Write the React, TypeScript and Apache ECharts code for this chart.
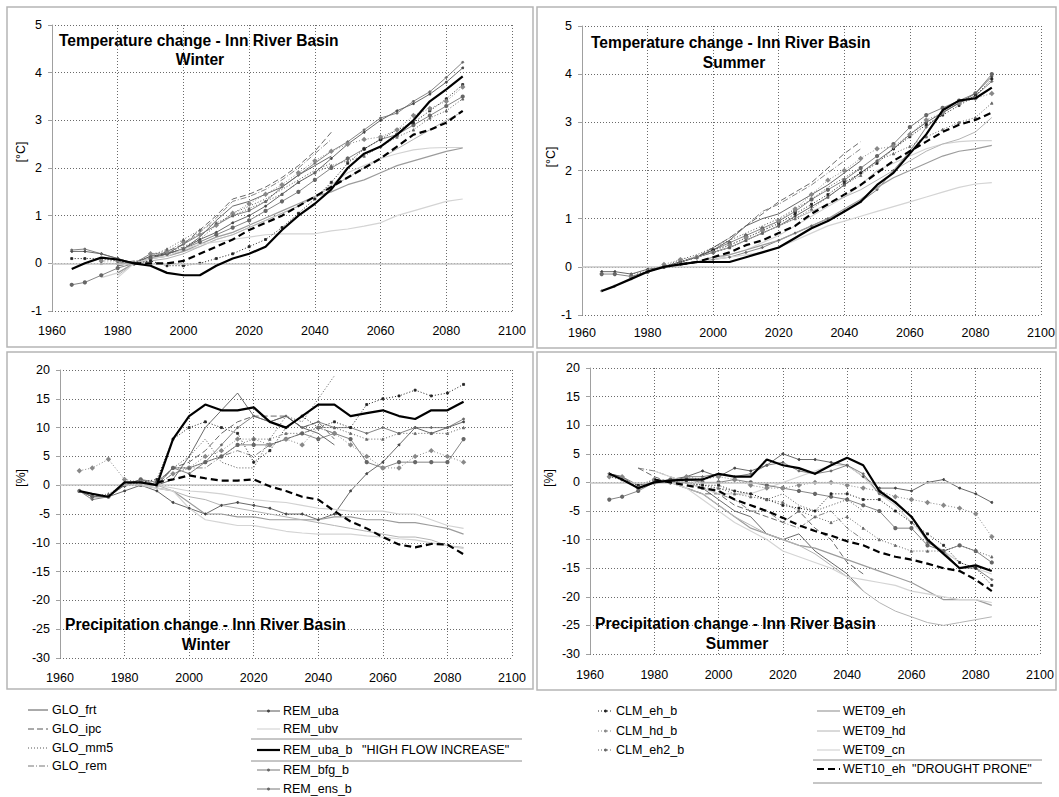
import React, { useEffect, useRef } from "react";
import * as echarts from "echarts";

const n = null;

// x values (years) shared by all series
const YEARS = [1966, 1970, 1975, 1980, 1985, 1990, 1995, 2000, 2005, 2010, 2015, 2020, 2025, 2030, 2035, 2040, 2045, 2050, 2055, 2060, 2065, 2070, 2075, 2080, 2085];
const X_TICKS = [1960, 1980, 2000, 2020, 2040, 2060, 2080, 2100];

const SERIES_NAMES = [
  "GLO_frt", "GLO_ipc", "GLO_mm5", "GLO_rem",
  "REM_uba", "REM_ubv", "REM_uba_b", "REM_bfg_b", "REM_ens_b",
  "CLM_eh_b", "CLM_hd_b", "CLM_eh2_b",
  "WET09_eh", "WET09_hd", "WET09_cn", "WET10_eh",
];

// Temperature change, winter [°C] (rows follow SERIES_NAMES)
const TEMP_WINTER: (number | null)[][] = [
  [n, n, n, 0.0, 0.0, 0.1, 0.2, 0.3, 0.55, 0.9, 1.2, 1.3, 1.45, 1.6, 1.85, 2.05, 2.25, n, n, n, n, n, n, n, n],
  [n, n, n, -0.05, 0.0, 0.1, 0.25, 0.4, 0.7, 1.0, 1.35, 1.45, 1.6, 1.8, 2.05, 2.35, 2.75, n, n, n, n, n, n, n, n],
  [n, n, n, 0.0, 0.0, 0.15, 0.2, 0.35, 0.5, 0.8, 1.05, 1.2, 1.35, 1.55, 1.75, 1.95, 2.1, n, n, n, n, n, n, n, n],
  [n, n, n, 0.0, 0.05, 0.1, 0.2, 0.4, 0.65, 0.95, 1.3, 1.4, 1.55, 1.75, 2.0, 2.3, 2.6, n, n, n, n, n, n, n, n],
  [0.25, 0.25, 0.2, 0.1, 0.0, 0.15, 0.2, 0.3, 0.5, 0.65, 0.85, 1.0, 1.2, 1.45, 1.7, 1.9, 2.2, 2.5, 2.75, 3.0, 3.2, 3.35, 3.55, 3.8, 4.1],
  [n, n, -0.3, -0.2, 0.0, 0.1, 0.15, 0.25, 0.35, 0.5, 0.6, 0.75, 0.9, 1.05, 1.2, 1.4, 1.65, 1.9, 2.05, 2.2, 2.3, 2.38, 2.42, 2.43, 2.43],
  [-0.12, 0.0, 0.12, 0.08, 0.0, -0.05, -0.2, -0.25, -0.25, -0.05, 0.1, 0.2, 0.35, 0.7, 1.0, 1.25, 1.55, 2.0, 2.3, 2.45, 2.7, 3.0, 3.4, 3.65, 3.92],
  [0.28, 0.3, 0.2, 0.1, 0.0, 0.2, 0.2, 0.4, 0.6, 0.8, 1.0, 1.1, 1.3, 1.6, 1.85, 2.1, 2.35, 2.55, 2.8, 3.05, 3.15, 3.4, 3.6, 3.9, 4.22],
  [-0.45, -0.4, -0.25, -0.1, 0.0, 0.1, 0.2, 0.3, 0.45, 0.6, 0.75, 0.9, 1.1, 1.3, 1.5, 1.75, 2.0, 2.2, 2.4, 2.6, 2.7, 2.9, 3.1, 3.3, 3.5],
  [0.1, 0.1, 0.1, 0.05, 0.0, 0.05, -0.05, -0.05, 0.0, 0.1, 0.2, 0.35, 0.5, 0.75, 1.05, 1.35, 1.7, 2.1, 2.4, 2.6, 2.8, 2.95, 3.2, 3.45, 3.75],
  [n, n, 0.05, 0.05, 0.0, 0.2, 0.25, 0.45, 0.6, 0.8, 1.05, 1.25, 1.45, 1.65, 1.9, 2.15, 2.35, 2.5, 2.6, 2.65, 2.8, 3.1, 3.25, 3.4, 3.7],
  [n, n, 0.0, 0.0, 0.0, 0.15, 0.3, 0.5, 0.7, 0.85, 1.0, 1.15, 1.3, 1.45, 1.7, 1.9, 2.05, 2.15, 2.25, 2.45, 2.65, 2.8, 3.05, 3.2, 3.45],
  [n, n, n, -0.2, 0.0, 0.1, 0.15, 0.25, 0.4, 0.55, 0.65, 0.8, 0.95, 1.1, 1.25, 1.4, 1.5, 1.65, 1.75, 1.9, 2.05, 2.15, 2.25, 2.35, 2.42],
  [n, n, n, -0.25, 0.0, 0.05, 0.1, 0.2, 0.35, 0.5, 0.6, 0.75, 0.9, 1.05, 1.2, 1.4, 1.6, 1.8, 2.0, 2.2, 2.4, 2.6, 2.8, 3.0, 3.18],
  [n, n, n, -0.3, 0.0, 0.1, 0.15, 0.3, 0.4, 0.45, 0.5, 0.55, 0.6, 0.62, 0.62, 0.62, 0.68, 0.72, 0.78, 0.85, 1.0, 1.1, 1.2, 1.3, 1.35],
  [n, n, n, n, 0.0, 0.0, 0.0, 0.05, 0.2, 0.35, 0.5, 0.7, 0.85, 1.0, 1.2, 1.4, 1.6, 1.8, 2.0, 2.2, 2.45, 2.7, 2.8, 2.95, 3.2],
];

// Temperature change, summer [°C]
const TEMP_SUMMER: (number | null)[][] = [
  [n, n, n, -0.1, 0.0, 0.1, 0.2, 0.35, 0.55, 0.85, 1.0, 1.1, 1.3, 1.5, 1.7, 1.95, 2.2, n, n, n, n, n, n, n, n],
  [n, n, n, -0.1, 0.0, 0.1, 0.2, 0.4, 0.6, 0.85, 1.1, 1.35, 1.55, 1.75, 2.05, 2.35, 2.6, n, n, n, n, n, n, n, n],
  [n, n, n, -0.1, 0.0, 0.15, 0.25, 0.4, 0.55, 0.7, 0.85, 1.0, 1.2, 1.4, 1.65, 1.85, 2.05, n, n, n, n, n, n, n, n],
  [n, n, n, -0.1, 0.0, 0.1, 0.2, 0.4, 0.6, 0.85, 1.15, 1.3, 1.5, 1.7, 1.95, 2.2, 2.45, n, n, n, n, n, n, n, n],
  [-0.1, -0.1, -0.15, -0.05, 0.0, 0.1, 0.2, 0.3, 0.4, 0.55, 0.7, 0.85, 1.05, 1.25, 1.45, 1.7, 1.95, 2.2, 2.45, 2.75, 3.0, 3.2, 3.4, 3.6, 3.95],
  [n, n, n, -0.1, 0.0, 0.05, 0.1, 0.15, 0.25, 0.35, 0.5, 0.65, 0.85, 1.05, 1.25, 1.45, 1.7, 2.0, 2.15, 2.3, 2.45, 2.55, 2.6, 2.62, 2.62],
  [-0.5, -0.4, -0.25, -0.1, 0.0, 0.05, 0.1, 0.1, 0.1, 0.2, 0.3, 0.4, 0.6, 0.8, 0.95, 1.15, 1.35, 1.7, 1.95, 2.35, 2.75, 3.25, 3.45, 3.5, 3.72],
  [-0.5, -0.4, -0.25, -0.1, 0.0, 0.05, 0.1, 0.15, 0.2, 0.3, 0.4, 0.55, 0.7, 0.85, 1.0, 1.15, 1.35, 1.6, 2.0, 2.4, 2.9, 3.2, 3.4, 3.55, 3.85],
  [-0.15, -0.15, -0.2, -0.1, 0.0, 0.1, 0.2, 0.35, 0.5, 0.65, 0.8, 0.95, 1.15, 1.4, 1.6, 1.8, 2.05, 2.3, 2.55, 2.9, 3.15, 3.3, 3.45, 3.6, 4.0],
  [n, n, -0.2, -0.1, 0.0, 0.1, 0.2, 0.35, 0.45, 0.6, 0.75, 0.9, 1.1, 1.3, 1.5, 1.75, 1.95, 2.15, 2.45, 2.7, 2.95, 3.15, 3.35, 3.55, 3.9],
  [n, n, -0.2, -0.1, 0.05, 0.15, 0.2, 0.3, 0.45, 0.6, 0.75, 0.95, 1.2, 1.5, 1.8, 2.0, 2.25, 2.45, 2.5, 2.75, 3.05, 3.2, 3.4, 3.5, 3.6],
  [n, n, -0.15, -0.1, 0.0, 0.1, 0.2, 0.3, 0.4, 0.55, 0.7, 0.85, 1.0, 1.2, 1.45, 1.7, 1.9, 2.2, 2.35, 2.5, 2.7, 2.85, 3.0, 3.1, 3.4],
  [n, n, n, -0.1, 0.0, 0.05, 0.1, 0.2, 0.25, 0.35, 0.45, 0.55, 0.7, 0.85, 1.0, 1.2, 1.4, 1.65, 1.85, 2.0, 2.15, 2.3, 2.4, 2.45, 2.52],
  [n, n, n, -0.1, 0.0, 0.1, 0.2, 0.3, 0.4, 0.55, 0.7, 0.85, 1.0, 1.15, 1.3, 1.45, 1.6, 1.8, 2.0, 2.2, 2.4, 2.55, 2.65, 2.8, 3.1],
  [n, n, n, -0.1, 0.0, 0.05, 0.1, 0.15, 0.2, 0.25, 0.3, 0.4, 0.55, 0.7, 0.85, 0.95, 1.05, 1.15, 1.25, 1.35, 1.45, 1.55, 1.65, 1.72, 1.75],
  [n, n, n, n, n, 0.05, 0.1, 0.2, 0.3, 0.45, 0.55, 0.7, 0.85, 1.1, 1.3, 1.5, 1.7, 1.95, 2.2, 2.4, 2.6, 2.8, 2.95, 3.05, 3.2],
];

// Precipitation change, winter [%]
const PREC_WINTER: (number | null)[][] = [
  [n, n, n, 0.0, 0.5, 0.0, 1.0, 5.0, 10.0, 13.0, 16.0, 12.0, 11.0, 12.0, 10.0, 9.0, 7.0, n, n, n, n, n, n, n, n],
  [n, n, n, 0.0, 0.5, 0.0, 3.0, 4.0, 6.0, 9.0, 11.0, 12.0, 12.0, 12.0, 10.0, 11.0, 8.0, n, n, n, n, n, n, n, n],
  [n, n, n, 0.0, 0.5, 0.0, 3.0, 5.0, 8.0, 4.0, 3.0, 3.0, 8.0, 12.0, 11.0, 15.0, 19.0, n, n, n, n, n, n, n, n],
  [n, n, n, 0.5, 0.0, 0.0, 2.0, 3.0, 3.0, 5.0, 6.0, 5.0, 7.0, 8.0, 9.0, 10.0, 9.0, n, n, n, n, n, n, n, n],
  [-1.0, -2.0, -2.0, -1.0, 0.0, -1.0, -3.0, -4.0, -5.0, -3.5, -3.0, -3.5, -4.0, -5.0, -5.0, -6.0, -5.0, -1.0, 2.0, 4.0, 7.0, 10.0, 9.0, 10.0, 11.0],
  [n, n, n, 0.0, 0.5, 0.0, -0.5, -1.0, -1.2, -1.5, -2.0, -2.5, -2.8, -3.0, -3.5, -4.0, -4.2, -4.5, -4.5, -4.5, -5.0, -5.0, -6.0, -7.0, -7.5],
  [-1.0, -1.5, -2.0, 0.5, 0.5, 0.0, 8.0, 12.0, 14.0, 13.0, 13.0, 13.5, 11.0, 10.0, 12.0, 14.0, 14.0, 12.0, 12.5, 13.0, 12.0, 11.5, 13.0, 13.0, 14.5],
  [-1.0, -2.5, -2.0, 0.0, 1.0, 0.0, 3.0, 2.0, 4.0, 7.0, 10.0, 12.0, 11.0, 12.0, 10.0, 11.0, 10.0, 10.0, 9.0, 10.0, 9.0, 10.0, 10.0, 10.0, 11.5],
  [-1.0, -2.0, -2.0, 0.0, 1.0, 0.5, 3.0, 3.0, 4.0, 5.0, 7.0, 7.0, 7.0, 8.0, 9.0, 8.0, 9.0, 8.0, 4.0, 3.0, 4.0, 4.0, 4.0, 4.0, 8.0],
  [n, n, n, 0.0, 0.5, 1.0, 8.0, 10.0, 11.0, 10.0, 9.0, 4.0, 6.0, 10.0, 12.0, 10.0, 11.0, 10.0, 14.0, 15.0, 15.5, 16.5, 15.5, 16.0, 17.5],
  [2.5, 3.0, 4.5, 1.0, 0.5, 0.0, 2.0, 3.0, 5.0, 6.0, 8.0, 8.0, 7.0, 8.0, 7.0, 10.0, 9.0, 7.0, 5.0, 3.0, 3.0, 5.0, 6.0, 5.0, 4.0],
  [-1.0, -2.0, -1.5, 0.0, 0.0, 0.5, 3.0, 3.0, 4.0, 5.0, 7.0, 8.0, 8.0, 9.0, 9.0, 10.0, 10.0, 9.0, 8.0, 8.0, 9.0, 9.0, 9.0, 9.0, 10.0],
  [n, n, n, n, 0.0, -0.5, -1.0, -3.0, -5.0, -5.0, -5.5, -5.5, -6.0, -6.0, -6.0, -6.0, -5.5, -5.5, -6.0, -6.0, -6.5, -6.5, -7.0, -7.5, -8.5],
  [n, n, n, n, 0.0, 0.0, -1.0, -2.0, -2.5, -3.5, -4.0, -4.5, -5.0, -5.5, -6.0, -6.5, -7.0, -7.5, -8.0, -8.5, -9.0, -9.0, -9.5, -10.5, -10.8],
  [n, n, n, n, 0.0, -0.5, -1.0, -4.0, -6.0, -6.5, -7.0, -7.0, -7.5, -8.0, -8.3, -8.5, -8.5, -8.5, -8.8, -9.0, -9.3, -9.5, -10.0, -10.5, -11.0],
  [n, n, n, n, n, 0.5, 1.0, 1.7, 1.2, 0.8, 0.8, 1.0, -0.2, -1.0, -2.0, -2.5, -4.5, -6.3, -7.5, -9.0, -10.3, -10.8, -10.2, -10.3, -12.0],
];

// Precipitation change, summer [%]
const PREC_SUMMER: (number | null)[][] = [
  [n, n, n, 0.0, 0.0, 0.0, -1.0, -3.0, -5.0, -6.0, -9.0, -10.0, -9.0, -12.0, -14.0, -16.0, -19.0, n, n, n, n, n, n, n, n],
  [n, n, 2.5, 1.0, 0.0, -1.0, -2.0, -2.0, -4.0, -5.0, -6.0, -7.0, -5.0, -8.0, -10.0, -14.0, -16.0, n, n, n, n, n, n, n, n],
  [n, n, n, 0.0, 0.0, 0.0, -0.5, -1.0, -1.5, -2.0, -3.0, -2.0, -4.0, -5.0, -4.0, -3.0, -5.0, n, n, n, n, n, n, n, n],
  [n, n, 2.5, 2.0, 1.0, 0.0, -1.0, -2.0, -3.0, -5.0, -5.0, -7.0, -8.0, -6.0, -5.0, -8.0, -10.0, n, n, n, n, n, n, n, n],
  [1.5, 1.0, -1.0, 0.0, 0.5, 1.0, 2.0, 1.0, 2.5, 2.0, 3.0, 5.0, 4.0, 4.0, 3.5, 3.0, 1.0, -1.0, -1.0, -1.5, 0.0, 0.5, -1.0, -2.0, -3.5],
  [n, n, n, 2.0, 1.0, 0.0, -1.0, -2.0, -2.0, -2.0, -1.0, 0.0, 1.0, 2.0, 3.0, 3.0, 1.0, -2.0, -4.0, -7.0, -10.0, -12.0, -14.0, -15.0, -16.0],
  [1.5, 0.5, -1.0, 0.0, 0.3, 0.5, 0.5, 1.5, 1.0, 1.0, 4.0, 3.0, 2.5, 1.5, 3.0, 4.3, 3.0, -1.5, -3.5, -6.0, -10.0, -12.5, -15.0, -14.5, -15.5],
  [1.5, 1.0, -0.5, 0.0, 0.0, 1.0, 1.0, 1.5, 1.0, 1.5, 3.0, 3.5, 2.0, 1.5, 2.0, 3.0, 1.5, -2.0, -3.5, -6.0, -10.5, -12.0, -15.0, -15.0, -17.0],
  [-3.0, -2.5, -1.5, 0.0, 0.5, 0.5, 0.0, 0.0, 0.5, 0.0, -0.5, -1.0, -1.5, -2.0, -2.5, -3.0, -4.0, -5.0, -8.0, -8.0, -11.0, -12.0, -11.0, -12.0, -14.0],
  [1.0, 0.5, -0.5, 0.5, 0.0, 0.0, -0.5, -0.5, -1.5, -2.0, -3.0, -4.0, -4.5, -5.0, -2.0, -2.0, -3.0, -3.0, -5.0, -7.0, -9.0, -11.0, -14.0, -15.0, -18.0],
  [1.0, 1.0, -1.0, 0.5, 0.0, 1.0, 0.5, 1.0, 0.5, -0.5, -1.0, -1.0, -0.5, 0.0, 0.0, -0.5, -1.0, -1.5, -2.5, -3.0, -3.5, -4.0, -4.5, -5.5, -9.5],
  [1.5, 0.5, -1.0, 0.0, 0.0, 0.5, -1.0, -1.0, -2.0, -2.5, -3.0, -3.5, -5.0, -6.0, -7.0, -6.0, -8.0, -10.0, -11.0, -12.0, -12.0, -12.0, -11.0, -12.0, -13.0],
  [n, n, n, n, 0.0, -1.0, -2.0, -4.0, -6.0, -8.0, -9.0, -10.0, -11.0, -11.5, -12.5, -13.5, -14.5, -15.5, -16.5, -17.5, -19.0, -20.5, -20.5, -20.5, -21.5],
  [n, n, n, n, 0.0, -1.0, -2.0, -4.0, -6.0, -7.5, -9.0, -10.0, -11.0, -12.5, -14.5, -16.5, -19.0, -21.0, -22.5, -23.5, -24.5, -25.0, -24.5, -24.0, -23.5],
  [n, n, n, n, 0.0, -1.0, -3.0, -5.0, -7.0, -8.5, -10.0, -12.0, -13.0, -14.0, -15.0, -16.5, -17.0, -17.5, -18.0, -19.0, -19.5, -20.0, -20.5, -20.5, -21.0],
  [n, n, n, 0.5, 0.0, -0.5, -1.0, -1.5, -3.0, -4.0, -5.0, -6.2, -7.5, -8.5, -9.3, -10.3, -11.0, -12.2, -13.0, -13.5, -14.2, -15.0, -15.5, -17.0, -19.0],
];

const FONT = '"Liberation Sans", Arial, Helvetica, sans-serif';

type Sty = { color: string; width: number; dash: any; symbol: string; size: number; z: number };
const STYLE: Record<string, Sty> = {
  GLO_frt: { color: "#444", width: 0.8, dash: "solid", symbol: "none", size: 0, z: 2 },
  GLO_ipc: { color: "#444", width: 0.8, dash: [6, 3], symbol: "none", size: 0, z: 2 },
  GLO_mm5: { color: "#444", width: 0.9, dash: [1, 2], symbol: "none", size: 0, z: 2 },
  GLO_rem: { color: "#666", width: 0.8, dash: [6, 2, 1, 2], symbol: "none", size: 0, z: 2 },
  REM_uba: { color: "#444", width: 0.8, dash: "solid", symbol: "circle", size: 2, z: 2 },
  REM_ubv: { color: "#d2d2d2", width: 1.1, dash: "solid", symbol: "none", size: 0, z: 2 },
  REM_uba_b: { color: "#000", width: 2.2, dash: "solid", symbol: "none", size: 0, z: 5 },
  REM_bfg_b: { color: "#666", width: 0.8, dash: "solid", symbol: "diamond", size: 2.5, z: 2 },
  REM_ens_b: { color: "#666", width: 0.8, dash: "solid", symbol: "emptyCircle", size: 2.2, z: 2 },
  CLM_eh_b: { color: "#222", width: 1, dash: [1, 2], symbol: "rect", size: 2, z: 3 },
  CLM_hd_b: { color: "#888", width: 1, dash: [1, 2], symbol: "emptyDiamond", size: 2.6, z: 3 },
  CLM_eh2_b: { color: "#666", width: 1, dash: [1, 2], symbol: "triangle", size: 2.4, z: 3 },
  WET09_eh: { color: "#9c9c9c", width: 1.2, dash: "solid", symbol: "none", size: 0, z: 2 },
  WET09_hd: { color: "#b4b4b4", width: 1, dash: "solid", symbol: "none", size: 0, z: 2 },
  WET09_cn: { color: "#d4d4d4", width: 1.2, dash: "solid", symbol: "none", size: 0, z: 2 },
  WET10_eh: { color: "#000", width: 2.2, dash: [7, 4], symbol: "none", size: 0, z: 5 },
};

const PANELS = [
  { data: TEMP_WINTER, grid: { left: 52, top: 25, width: 460, height: 286 }, yMin: -1, yMax: 5, yInt: 1, xMargin: 13 },
  { data: TEMP_SUMMER, grid: { left: 582, top: 26, width: 459, height: 289 }, yMin: -1, yMax: 5, yInt: 1, xMargin: 11 },
  { data: PREC_WINTER, grid: { left: 60, top: 370, width: 452, height: 288 }, yMin: -30, yMax: 20, yInt: 5, xMargin: 13 },
  { data: PREC_SUMMER, grid: { left: 590, top: 368, width: 450, height: 286 }, yMin: -30, yMax: 20, yInt: 5, xMargin: 14 },
];

const TITLES = [
  { t: "Temperature change - Inn River Basin", s: "Winter", x: 59, y: 40, sx: 200, sy: 59 },
  { t: "Temperature change - Inn River Basin", s: "Summer", x: 591, y: 42, sx: 734, sy: 62 },
  { t: "Precipitation change - Inn River Basin", s: "Winter", x: 65, y: 624, sx: 206, sy: 644 },
  { t: "Precipitation change - Inn River Basin", s: "Summer", x: 595, y: 623, sx: 737, sy: 643 },
];
const Y_NAMES = [
  { t: "[°C]", x: 21, y: 152 },
  { t: "[°C]", x: 551, y: 157 },
  { t: "[%]", x: 21, y: 478 },
  { t: "[%]", x: 549, y: 478 },
];
const PANEL_BOXES = [
  { x: 7, y: 7, w: 526, h: 340 },
  { x: 537, y: 7, w: 519, h: 341 },
  { x: 7, y: 352, w: 526, h: 337 },
  { x: 537, y: 352, w: 519, h: 338 },
];

// legend layout
const LEGEND_COLS = [
  { x1: 28, x2: 48, tx: 52, names: ["GLO_frt", "GLO_ipc", "GLO_mm5", "GLO_rem"], ys: [710, 729, 748, 766] },
  { x1: 257, x2: 280, tx: 283, names: ["REM_uba", "REM_ubv", "REM_uba_b", "REM_bfg_b", "REM_ens_b"], ys: [711, 729, 750, 770, 789] },
  { x1: 598, x2: 613, tx: 616, names: ["CLM_eh_b", "CLM_hd_b", "CLM_eh2_b"], ys: [711, 731, 750] },
  { x1: 817, x2: 840, tx: 843, names: ["WET09_eh", "WET09_hd", "WET09_cn", "WET10_eh"], ys: [711, 731, 750, 769] },
];
const LEGEND_SEPARATORS = [
  { x1: 251, x2: 522, y: 739 },
  { x1: 251, x2: 522, y: 761 },
  { x1: 813, x2: 1042, y: 760 },
  { x1: 813, x2: 1042, y: 783 },
];
const LEGEND_NOTES = [
  { t: '"HIGH FLOW INCREASE"', x: 362, y: 750 },
  { t: '"DROUGHT PRONE"', x: 912, y: 769 },
];

function buildOption() {
  const grids: any[] = [];
  const xAxes: any[] = [];
  const yAxes: any[] = [];
  const series: any[] = [];
  const gridLine = { show: true, lineStyle: { color: "#6a6a6a", type: [1, 2], width: 1 } };

  PANELS.forEach((p, gi) => {
    grids.push({ ...p.grid, containLabel: false });
    xAxes.push({
      type: "value", gridIndex: gi, min: 1960, max: 2100, interval: 20,
      axisLine: { show: false }, axisTick: { show: false },
      axisLabel: { color: "#000", fontSize: 12.5, fontFamily: FONT, margin: p.xMargin, formatter: (v: number) => (X_TICKS.includes(v) ? String(v) : "") },
      splitLine: gridLine,
    });
    yAxes.push({
      type: "value", gridIndex: gi, min: p.yMin, max: p.yMax, interval: p.yInt,
      axisLine: { show: true, onZero: false, lineStyle: { color: "#a0a0a0", width: 1 } },
      axisTick: { show: true, length: 4, lineStyle: { color: "#a0a0a0" } },
      axisLabel: { color: "#000", fontSize: 12.5, fontFamily: FONT, margin: 10 },
      splitLine: gridLine,
    });
    p.data.forEach((vals, si) => {
      const name = SERIES_NAMES[si];
      const st = STYLE[name];
      const pts = YEARS.map((y, i) => [y, vals[i]]).filter((d) => d[1] !== null);
      const s: any = {
        type: "line", name, xAxisIndex: gi, yAxisIndex: gi, data: pts,
        showSymbol: st.symbol !== "none", symbol: st.symbol === "none" ? "none" : st.symbol, symbolSize: st.size,
        itemStyle: { color: st.color, borderColor: st.color, borderWidth: 0.8 },
        lineStyle: { color: st.color, width: st.width, type: st.dash },
        z: st.z, silent: true, animation: false,
      };
      if (si === 0) {
        s.markLine = {
          silent: true, symbol: "none", label: { show: false }, animation: false,
          lineStyle: { color: "#c6c6c6", type: "solid", width: 1.6 },
          data: [{ yAxis: 0 }],
        };
      }
      series.push(s);
    });
  });

  const graphic: any[] = [];
  PANEL_BOXES.forEach((b) => graphic.push({
    type: "rect", shape: { x: b.x, y: b.y, width: b.w, height: b.h }, z: -10,
    style: { fill: "none", stroke: "#b5b5b5", lineWidth: 1.5 }, silent: true,
  }));
  TITLES.forEach((t) => {
    graphic.push({ type: "text", x: t.x, y: t.y, z: 10, style: { text: t.t, fontSize: 15.6, fontWeight: "bold", fontFamily: FONT, fill: "#000", textAlign: "left", textVerticalAlign: "middle" } });
    graphic.push({ type: "text", x: t.sx, y: t.sy, z: 10, style: { text: t.s, fontSize: 15.6, fontWeight: "bold", fontFamily: FONT, fill: "#000", textAlign: "center", textVerticalAlign: "middle" } });
  });
  Y_NAMES.forEach((t) => graphic.push({
    type: "text", x: t.x, y: t.y, rotation: Math.PI / 2,
    style: { text: t.t, fontSize: 12.5, fontFamily: FONT, fill: "#000", textAlign: "center", textVerticalAlign: "middle" },
  }));
  LEGEND_COLS.forEach((c) => c.names.forEach((name, i) => {
    const st = STYLE[name];
    const y = c.ys[i];
    graphic.push({
      type: "line", shape: { x1: c.x1, y1: y, x2: c.x2, y2: y },
      style: { stroke: st.color, lineWidth: Math.max(st.width, 0.9), lineDash: Array.isArray(st.dash) ? st.dash : null },
    });
    if (st.symbol !== "none") {
      graphic.push({ type: "circle", shape: { cx: (c.x1 + c.x2) / 2, cy: y, r: 1.5 }, style: { fill: st.color } });
    }
    graphic.push({ type: "text", x: c.tx, y, style: { text: name, fontSize: 12.5, fontFamily: FONT, fill: "#000", textAlign: "left", textVerticalAlign: "middle" } });
  }));
  LEGEND_SEPARATORS.forEach((s) => graphic.push({
    type: "line", shape: { x1: s.x1, y1: s.y, x2: s.x2, y2: s.y }, style: { stroke: "#8c8c8c", lineWidth: 1 },
  }));
  LEGEND_NOTES.forEach((t) => graphic.push({
    type: "text", x: t.x, y: t.y, style: { text: t.t, fontSize: 12.5, fontFamily: FONT, fill: "#000", textAlign: "left", textVerticalAlign: "middle" },
  }));

  return {
    animation: false,
    backgroundColor: "#fff",
    textStyle: { fontFamily: FONT },
    grid: grids, xAxis: xAxes, yAxis: yAxes, series, graphic,
  };
}

export default function App() {
  const ref = useRef<HTMLDivElement>(null);
  useEffect(() => {
    if (!ref.current) return;
    const chart = echarts.init(ref.current, null, { renderer: "svg" });
    chart.setOption(buildOption());
    return () => chart.dispose();
  }, []);
  return <div ref={ref} style={{ position: "fixed", left: 0, top: 0, width: 1059, height: 797, background: "#fff" }} />;
}
